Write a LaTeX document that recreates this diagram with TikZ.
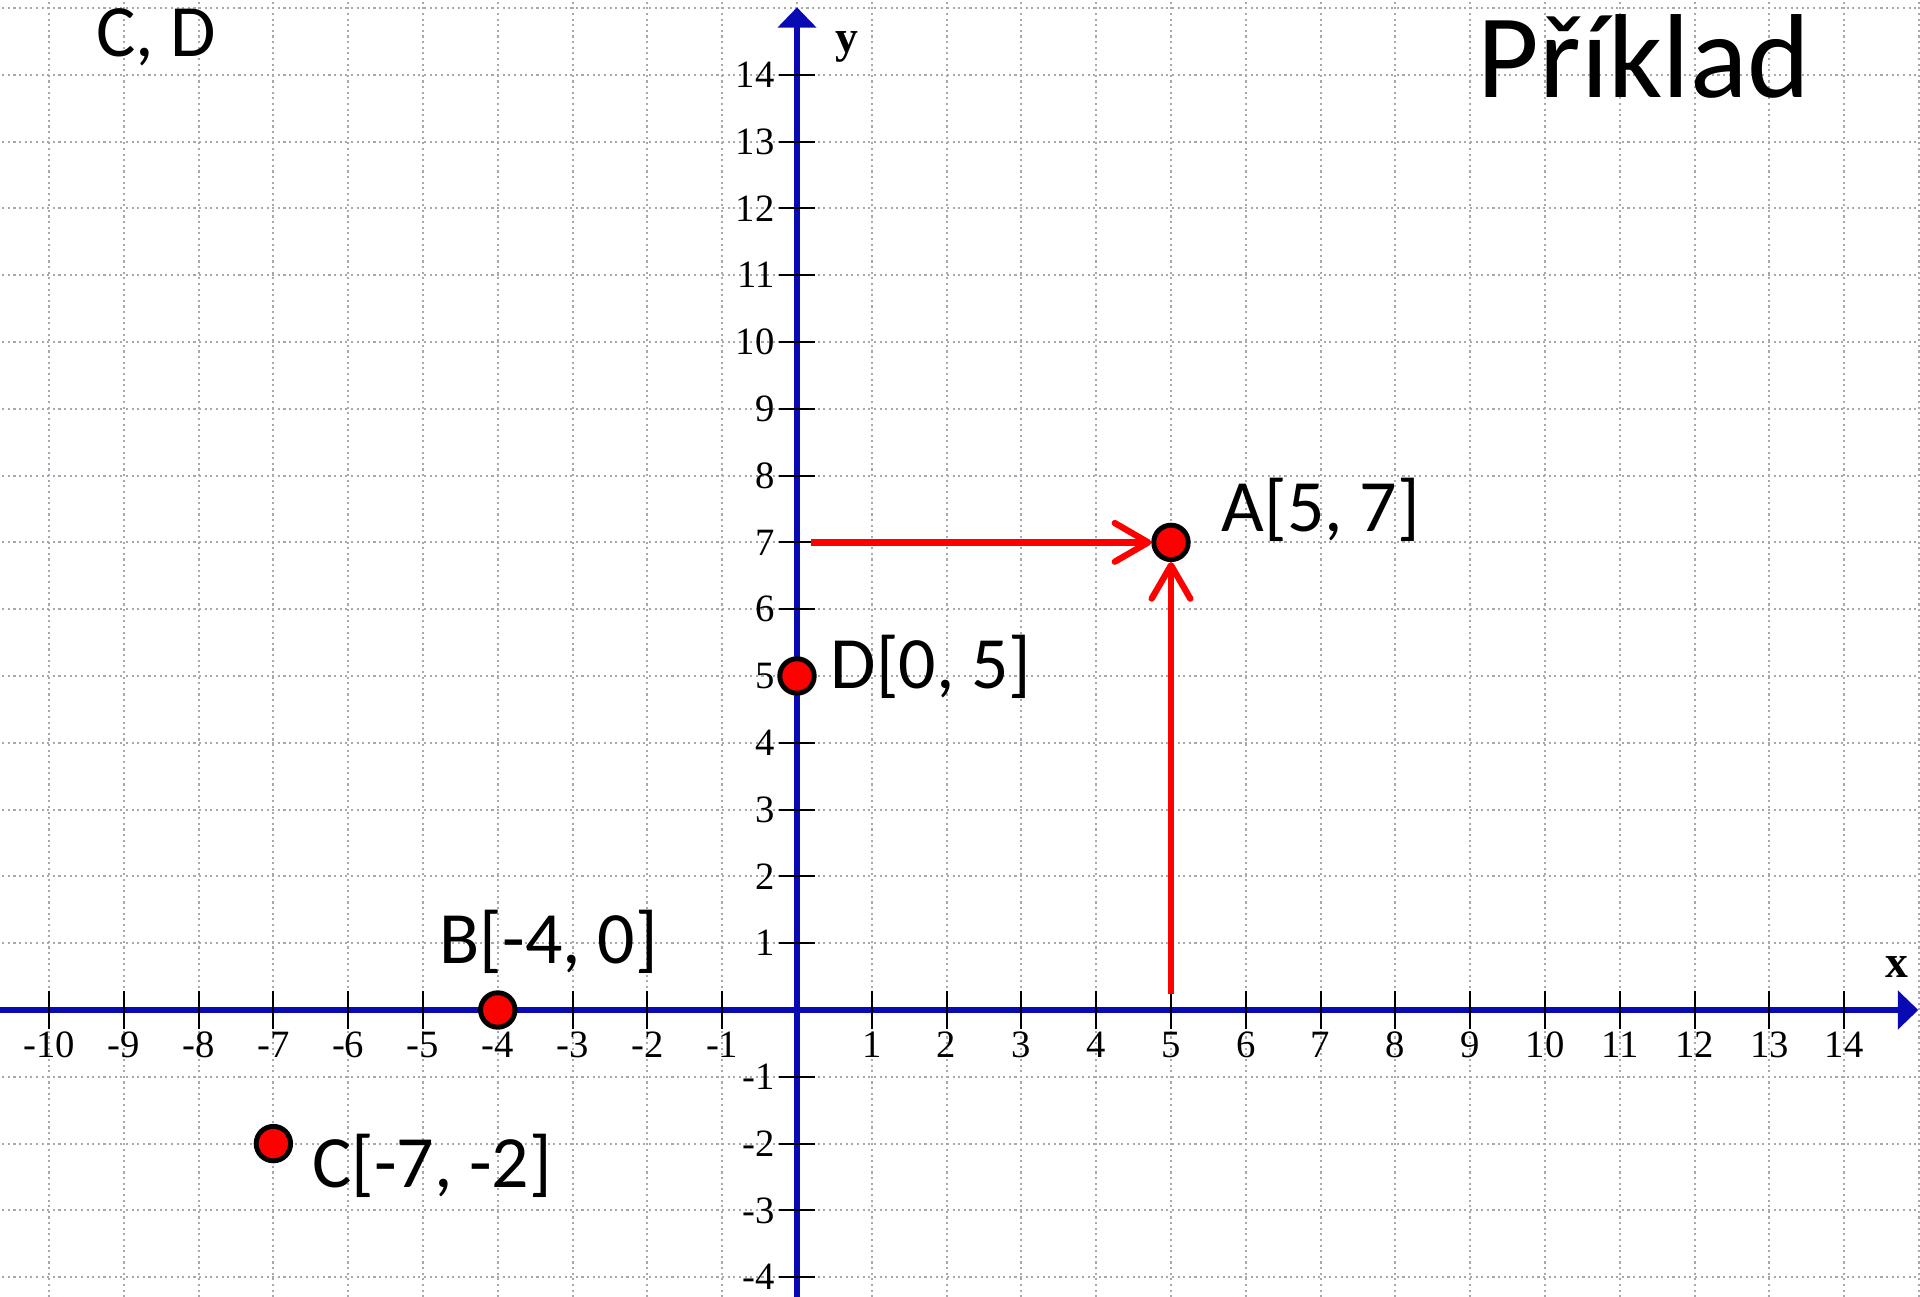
\documentclass[tikz,border=0pt]{standalone}
\usepackage{fontspec}
\setmainfont{Carlito}
\newfontfamily\tickfont{Liberation Serif}
\usetikzlibrary{arrows.meta}
\definecolor{axisblue}{RGB}{10,10,180}
\definecolor{gridgray}{RGB}{168,168,178}
\definecolor{ptred}{RGB}{255,0,0}
\begin{document}
\begin{tikzpicture}[x=0.748cm,y=0.668cm,
  gridline/.style={gridgray, line width=0.6pt, dash pattern=on 0.6pt off 1.0pt},
  axisline/.style={axisblue, line width=1.5pt, -{Triangle[length=5.8pt,width=10.8pt]}},
  tickmark/.style={black, line width=0.6pt},
  ticklabel/.style={font=\tickfont\fontsize{11}{13}\selectfont, inner sep=0pt},
  axislabel/.style={font=\tickfont\bfseries\fontsize{13}{15}\selectfont, inner sep=0pt, anchor=base},
  ptnode/.style={circle, fill=ptred, draw=black, line width=1.4pt, minimum size=9.8pt, inner sep=0pt},
  lbl/.style={font=\fontsize{21}{25}\selectfont, inner sep=0pt},
  redarrow/.style={ptred, line width=1.8pt, -{Straight Barb[length=9.5pt,width=11pt,round]}}]

\useasboundingbox (-7.97cm,-2.86cm) rectangle (11.23cm,10.10cm);
\fill[white] (-7.97cm,-2.86cm) rectangle (11.23cm,10.10cm);

% grid
\foreach \i in {-10,...,15} \draw[gridline] (\i,-4.3) -- (\i,15.2);
\foreach \j in {-4,...,15} \draw[gridline] (-10.7,\j) -- (15.05,\j);

% axes
\draw[axisline] (-10.7,0) -- (14.99,0);
\draw[axisline] (0,-4.3) -- (0,15.01);

% ticks and labels
\foreach \i in {-10,...,-1,1,2,...,14} {
  \draw[tickmark] (\i,0) ++(0,-5.4pt) -- ++(0,10.8pt);
  \node[ticklabel, yshift=-10pt] (xl\i) at (\i,0) {\i};
}
\foreach \j in {-4,...,-1,1,2,...,14} {
  \draw[tickmark] (0,\j) ++(-5.2pt,0) -- ++(10.4pt,0);
  \node[ticklabel, anchor=east, xshift=-6.2pt] (yl\j) at (0,\j) {\j};
}
\node[axislabel] (xlab) at (14.71,0.48) {x};
\node[axislabel] (ylab) at (0.67,14.33) {y};

% points
\node[ptnode] (A) at (5,7) {};
\node[ptnode] (B) at (-4,0) {};
\node[ptnode] (C) at (-7,-2) {};
\node[ptnode] (D) at (0,5) {};

% arrows to A
\coordinate (hs) at (0.19,7);
\coordinate (vs) at (5,0.24);
\draw[redarrow] (hs) -- (A);
\draw[redarrow] (vs) -- (A);

% labels
\node[lbl, anchor=base west] (Alab) at (5.67,7.16) {A[5, 7]};
\node[lbl, anchor=base] (Blab) at (-3.32,0.70) {B[-4, 0]};
\node[lbl, anchor=base west] (Clab) at (-6.49,-2.66) {C[-7, -2]};
\node[lbl, anchor=base west] (Dlab) at (0.44,4.81) {D[0, 5]};
\node[lbl, anchor=base west] (cd) at (-9.37,14.27) {C, D};
\node[font=\fontsize{34}{40}\selectfont, inner sep=0pt, anchor=base west] (title) at (9.09,13.66) {Příklad};
\end{tikzpicture}
\end{document}
